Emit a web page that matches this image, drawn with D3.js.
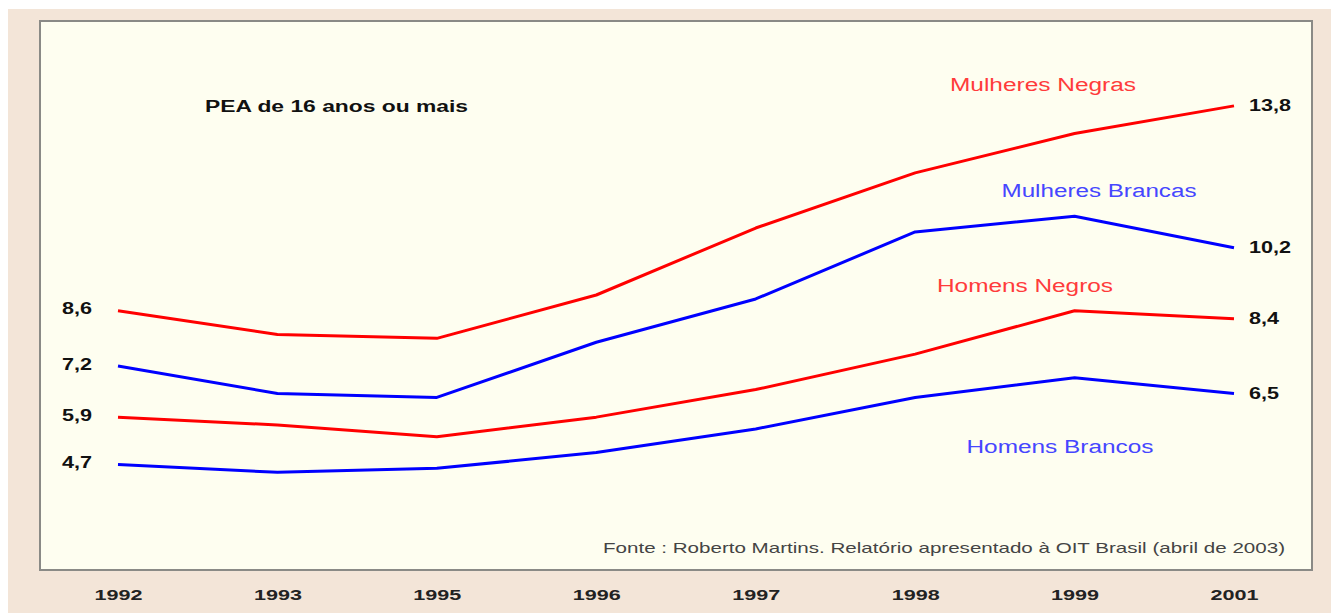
<!DOCTYPE html>
<meta charset="utf-8">
<script src="https://d3js.org/d3.v7.min.js"></script>
<style type="text/css">
body { margin: 0; background: #fff; }
text { font-family: "Liberation Sans", Arial, sans-serif; }
.linha { fill: none; stroke-width: 3; stroke-linejoin: round; }
.valor { font-weight: bold; font-size: 16px; fill: #111; }
.ano { font-weight: bold; font-size: 15px; fill: #222; }
.serie { font-size: 18px; }
</style>
<body>
<div id="canvas"></div>
<script>

// dados ------------------------------------------------------------
var anos = ["1992", "1993", "1995", "1996", "1997", "1998", "1999", "2001"];
var mulheresNegras  = [8.6, 8.0, 7.9, 9.0, 10.7, 12.1, 13.1, 13.8];
var mulheresBrancas = [7.2, 6.5, 6.4, 7.8, 8.9, 10.6, 11.0, 10.2];
var homensNegros    = [5.9, 5.7, 5.4, 5.9, 6.6, 7.5, 8.6, 8.4];
var homensBrancos   = [4.7, 4.5, 4.6, 5.0, 5.6, 6.4, 6.9, 6.5];

var series = [
    { nome: "Mulheres Negras",  valores: mulheresNegras,  cor: "#ff0000", corTexto: "#ff3b3b" },
    { nome: "Mulheres Brancas", valores: mulheresBrancas, cor: "#0000ff", corTexto: "#4646ff" },
    { nome: "Homens Negros",    valores: homensNegros,    cor: "#ff0000", corTexto: "#ff3b3b" },
    { nome: "Homens Brancos",   valores: homensBrancos,   cor: "#0000ff", corTexto: "#4646ff" }
];

var width = 1331;
var height = 613;

var svg = d3.select('#canvas')
    .append("svg")
    .attr("width", width)
    .attr("height", height);

// fundo bege e painel
svg.append("rect")
    .attr("x", 8).attr("y", 9)
    .attr("width", width - 8).attr("height", height - 9)
    .style("fill", "#f3e5d8");

svg.append("rect")
    .attr("x", 40).attr("y", 21)
    .attr("width", 1272).attr("height", 549)
    .style("fill", "#fefef0")
    .style("stroke", "#8a8a86")
    .style("stroke-width", 2);

// escalas ----------------------------------------------------------
var x = d3.scalePoint()
    .domain(anos)
    .range([118, 1234]);

var y = d3.scaleLinear()
    .domain([4, 14])
    .range([492, 98]);

// eixo X (so os textos)
var xAxis = d3.axisBottom(x).tickSize(0).tickPadding(0);
var gx = svg.append("g")
    .attr("transform", "translate(0,586)")
    .call(xAxis);
gx.select(".domain").remove();
gx.selectAll("text")
    .attr("class", "ano")
    .attr("dy", "0.9em")
    .attr("textLength", 48)
    .attr("lengthAdjust", "spacingAndGlyphs");

// linhas -----------------------------------------------------------
var line = d3.line()
    .x(function(d, i) { return x(anos[i]); })
    .y(function(d) { return y(d); });

svg.selectAll(".linha")
    .data(series)
    .enter()
    .append("path")
    .attr("class", "linha")
    .attr("d", function(d) { return line(d.valores); })
    .style("stroke", function(d) { return d.cor; });

// valores no inicio e no fim
var fmt = function(v) { return String(v.toFixed(1)).replace(".", ","); };

svg.selectAll(".valor-ini")
    .data(series)
    .enter()
    .append("text")
    .attr("class", "valor")
    .attr("x", x(anos[0]) - 26)
    .attr("y", function(d) { return y(d.valores[0]) - 2; })
    .attr("dy", "0.35em")
    .attr("text-anchor", "end")
    .attr("textLength", 30)
    .attr("lengthAdjust", "spacingAndGlyphs")
    .text(function(d) { return fmt(d.valores[0]); });

svg.selectAll(".valor-fim")
    .data(series)
    .enter()
    .append("text")
    .attr("class", "valor")
    .attr("x", x(anos[anos.length - 1]) + 15)
    .attr("y", function(d) { return y(d.valores[d.valores.length - 1]); })
    .attr("dy", "0.35em")
    .attr("textLength", function(d) { return d.valores[d.valores.length - 1] >= 10 ? 42 : 30; })
    .attr("lengthAdjust", "spacingAndGlyphs")
    .text(function(d) { return fmt(d.valores[d.valores.length - 1]); });

// nomes das series
var rotulos = [
    { x: 1043, y: 91,  w: 186 },
    { x: 1099, y: 197, w: 195 },
    { x: 1025, y: 292, w: 176 },
    { x: 1060, y: 453, w: 187 }
];
svg.selectAll(".serie")
    .data(series)
    .enter()
    .append("text")
    .attr("class", "serie")
    .attr("x", function(d, i) { return rotulos[i].x; })
    .attr("y", function(d, i) { return rotulos[i].y; })
    .attr("text-anchor", "middle")
    .attr("textLength", function(d, i) { return rotulos[i].w; })
    .attr("lengthAdjust", "spacingAndGlyphs")
    .style("fill", function(d) { return d.corTexto; })
    .text(function(d) { return d.nome; });

// titulo e fonte
svg.append("text")
    .attr("x", 205).attr("y", 112)
    .attr("textLength", 263)
    .attr("lengthAdjust", "spacingAndGlyphs")
    .style("font-weight", "bold")
    .style("font-size", "16px")
    .style("fill", "#111")
    .text("PEA de 16 anos ou mais");

svg.append("text")
    .attr("x", 603).attr("y", 553)
    .attr("textLength", 682)
    .attr("lengthAdjust", "spacingAndGlyphs")
    .style("font-size", "15px")
    .style("fill", "#444")
    .text("Fonte : Roberto Martins. Relatório apresentado à OIT Brasil (abril de 2003)");
</script>
</body>
